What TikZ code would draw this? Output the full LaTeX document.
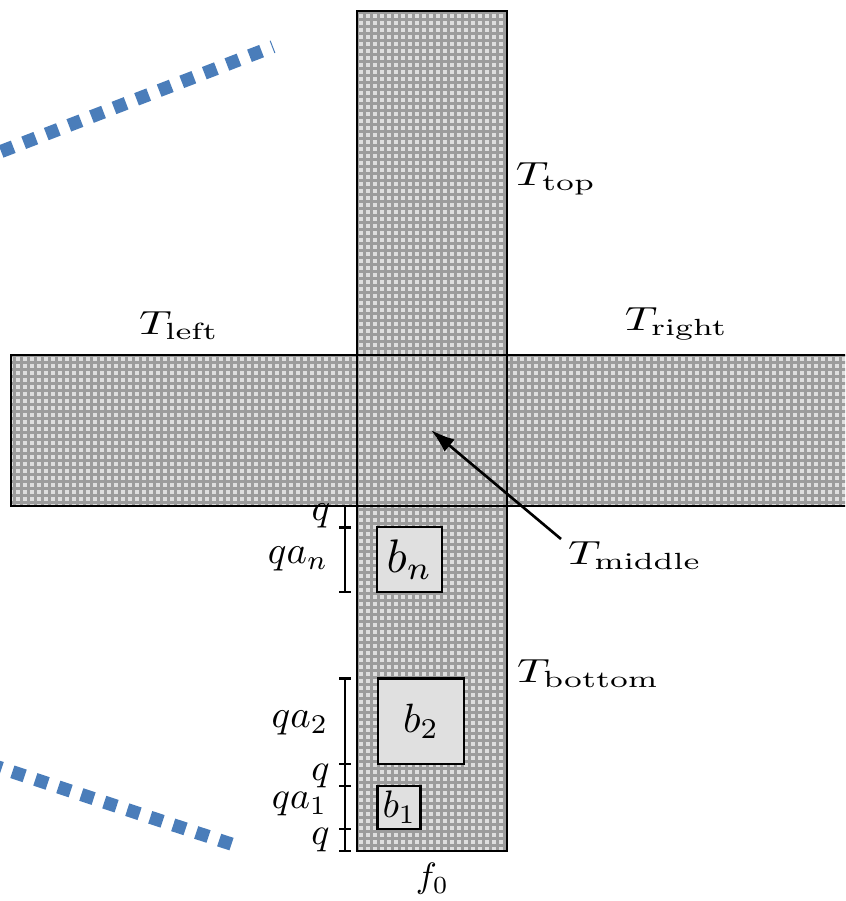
\documentclass[tikz,border=0pt]{standalone}
\usetikzlibrary{arrows.meta}
\definecolor{cellgray}{HTML}{DEDEDE}
\definecolor{linegray}{HTML}{9C9C9C}
\definecolor{boxgray}{HTML}{E0E0E0}
\definecolor{dotblue}{HTML}{4A7DBA}
\begin{document}
\begin{tikzpicture}[x=0.2273pt,y=-0.2273pt,
  outline/.style={draw=black,line width=0.6pt},
  gridline/.style={draw=linegray,line width=0.5pt},
  bbox/.style={draw=black,line width=0.6pt,fill=boxgray,inner sep=0pt},
  dimline/.style={draw=black,line width=0.6pt},
  dotline/.style={draw=dotblue,line width=3pt,dash pattern=on 2.95pt off 2.55pt},
  ptr/.style={draw=black,line width=0.6pt,-{Latex[length=5.5pt,width=3.6pt]}},
  lbl/.style={inner sep=0pt}]
\useasboundingbox (0,0) rectangle (845,901);
\clip (0,0) rectangle (845,901);
% textured cross
\begin{scope}
  \clip (357,11) rectangle (507,851) (11,355) rectangle (850,506);
  \fill[cellgray] (0,0) rectangle (850,901);
  \foreach \i in {-51,...,72} \draw[gridline] ({357.5+\i*7},0) -- ({357.5+\i*7},901);
  \foreach \j in {-51,...,72} \draw[gridline] (0,{355.5+\j*7}) -- (850,{355.5+\j*7});
\end{scope}
\draw[outline] (357,11) rectangle (507,851);
\draw[outline] (11,355) rectangle (850,506);
% boxes
\node[bbox,minimum width=14.77pt,minimum height=14.77pt] (bn) at (409.5,559.5) {\scalebox{1.07}{$b_n$}};
\node[bbox,minimum width=19.55pt,minimum height=19.4pt] (b2) at (421,721.3) {\scalebox{0.93}{$b_2$}};
\node[bbox,minimum width=9.77pt,minimum height=9.77pt] (b1) at (399.3,807.5) {\scalebox{0.87}{$b_1$}};
% dimension lines
\draw[dimline] (345,506) -- (345,592);
\draw[dimline] (345,678.5) -- (345,851);
\foreach \y in {506,527.5,592,678.5,764,786,829,851}
  \draw[dimline] (339,\y) -- (351,\y);
% dimension labels
\node[lbl] (q0) at (321,516) {\scalebox{0.88}{$q$}};
\node[lbl] (qan) at (298,559) {\scalebox{0.88}{$qa_n$}};
\node[lbl] (qa2) at (300,723) {\scalebox{0.88}{$qa_2$}};
\node[lbl] (q2) at (320.5,776) {\scalebox{0.86}{$q$}};
\node[lbl] (qa1) at (299.5,804) {\scalebox{0.86}{$qa_1$}};
\node[lbl] (q1) at (320.5,840) {\scalebox{0.86}{$q$}};
\node[lbl] (f0) at (432.5,879) {\scalebox{0.8}{$f_0$}};
% region labels
\node[lbl] (Ttop) at (556,178.5) {\scalebox{1.02}[0.76]{$T_{\mathrm{top}}$}};
\node[lbl] (Tleft) at (179,325.5) {\scalebox{1.02}[0.76]{$T_{\mathrm{left}}$}};
\node[lbl] (Tright) at (676.5,324) {\scalebox{1.02}[0.76]{$T_{\mathrm{right}}$}};
\node[lbl] (Tmid) at (635,556) {\scalebox{1.02}[0.76]{$T_{\mathrm{middle}}$}};
\node[lbl] (Tbot) at (588.5,673.5) {\scalebox{1.02}[0.76]{$T_{\mathrm{bottom}}$}};
% pointer
\coordinate (mtail) at (561,539);
\coordinate (mhead) at (431,430);
\draw[ptr] (mtail) -- (mhead);
% blue dotted strokes
\coordinate (bt1) at (273,46.7);
\coordinate (bt2) at (-20,159.6);
\coordinate (bb1) at (231.5,844.1);
\coordinate (bb2) at (-20,761.1);
\draw[dotline,dash phase=2.72pt] (bt1) -- (bt2);
\draw[dotline] (bb1) -- (bb2);
\end{tikzpicture}
\end{document}
